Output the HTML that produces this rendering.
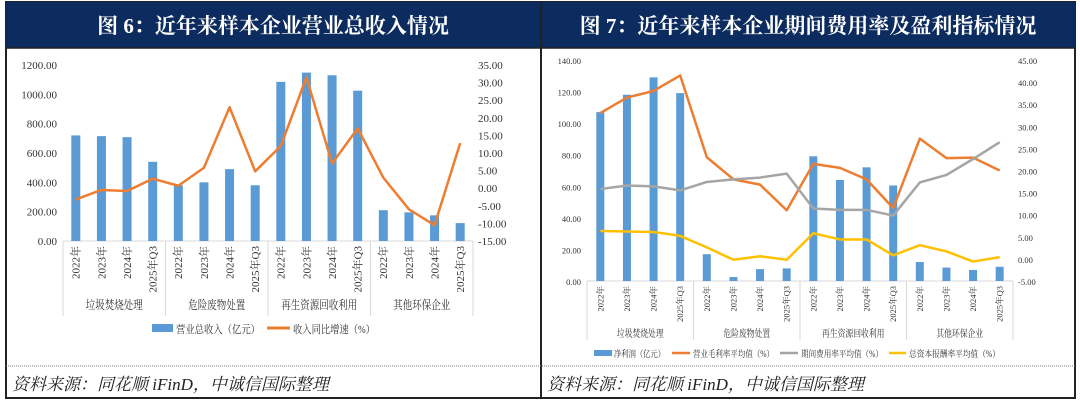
<!DOCTYPE html>
<html><head><meta charset="utf-8"><style>
html,body{margin:0;padding:0;background:#fff;}
svg{display:block;font-family:"Liberation Serif","Noto Serif CJK SC",serif;}
</style></head><body>
<svg id="s" width="1080" height="406" viewBox="0 0 1080 406" xmlns="http://www.w3.org/2000/svg" style="position:absolute;left:0;top:0">
<rect x="6" y="2" width="1069" height="396" fill="#fff" stroke="#222" stroke-width="2"/>
<rect x="6" y="2" width="1069" height="46" fill="#0c2b5e"/>
<line x1="541" y1="2" x2="541" y2="398" stroke="#222" stroke-width="2"/>
<line x1="6" y1="48" x2="1075" y2="48" stroke="#222" stroke-width="1.5"/>
<text x="273" y="33" text-anchor="middle" fill="#fff" font-size="21" font-weight="bold">图 6：近年来样本企业营业总收入情况</text>
<text x="808" y="33" text-anchor="middle" fill="#fff" font-size="21" font-weight="bold">图 7：近年来样本企业期间费用率及盈利指标情况</text>
<line x1="6" y1="366" x2="1075" y2="366" stroke="#777" stroke-dasharray="1,1"/>
<text x="12" y="390" font-size="17" font-style="italic" fill="#222">资料来源：同花顺 iFinD，中诚信国际整理</text>
<text x="547" y="390" font-size="17" font-style="italic" fill="#222">资料来源：同花顺 iFinD，中诚信国际整理</text>
<g id="c1"></g>
<g id="c2"></g>
<g>
<rect x="152" y="324" width="21" height="8" fill="#5b9bd5"/>
<text x="176" y="333" font-size="11" textLength="84" lengthAdjust="spacingAndGlyphs" fill="#333">营业总收入（亿元）</text>
<line x1="267" y1="328" x2="290" y2="328" stroke="#ed7d31" stroke-width="3"/>
<text x="293" y="333" font-size="11" textLength="82" lengthAdjust="spacingAndGlyphs" fill="#333">收入同比增速（%）</text>
</g>
<g>
<rect x="594" y="350" width="18" height="6" fill="#5b9bd5"/>
<text x="614" y="357" font-size="9" textLength="51" lengthAdjust="spacingAndGlyphs" fill="#333">净利润（亿元）</text>
<line x1="672" y1="353" x2="690" y2="353" stroke="#ed7d31" stroke-width="2.5"/>
<text x="693" y="357" font-size="9" textLength="81" lengthAdjust="spacingAndGlyphs" fill="#333">营业毛利率平均值（%）</text>
<line x1="780" y1="353" x2="798" y2="353" stroke="#a5a5a5" stroke-width="2.5"/>
<text x="801" y="357" font-size="9" textLength="82" lengthAdjust="spacingAndGlyphs" fill="#333">期间费用率平均值（%）</text>
<line x1="889" y1="353" x2="906" y2="353" stroke="#ffc000" stroke-width="2.5"/>
<text x="909" y="357" font-size="9" textLength="91" lengthAdjust="spacingAndGlyphs" fill="#333">总资本报酬率平均值（%）</text>
</g>
</svg>
<script>
const years=["2022年","2023年","2024年","2025年Q3","2022年","2023年","2024年","2025年Q3","2022年","2023年","2024年","2025年Q3","2022年","2023年","2024年","2025年Q3"];
const groups=["垃圾焚烧处理","危险废物处置","再生资源回收利用","其他环保企业"];
const revenue=[720,715,708,540,380,400,490,380,1085,1148,1130,1025,210,195,175,122];
const revGrowth=[-3.2,-0.5,-0.8,2.7,0.7,5.8,23,4.8,12,31.5,7,17,3,-6,-10.5,12.8];
const leftTicks1=[0,200,400,600,800,1000,1200];
const rightTicks1=[-15,-10,-5,0,5,10,15,20,25,30,35];
const netProfit=[107,118,129,119,17,2.5,7.5,8,79,64,72,60.5,12,8.5,7,9];
const grossMargin=[33,36.5,38,41.5,23,18,16.8,11,21.5,20.6,18,11.5,27.2,22.8,22.9,20];
const expenseRate=[15.8,16.6,16.4,15.5,17.4,18,18.4,19.3,11.4,11.1,11.1,9.8,17.3,19,22.6,26.4];
const roa=[6.3,6.2,6.1,5.2,2.6,-0.2,0.6,-0.2,5.8,4.4,4.4,0.8,3.1,1.7,-0.6,0.4];
const leftTicks2=[0,20,40,60,80,100,120,140];
const rightTicks2=[-5,0,5,10,15,20,25,30,35,40,45];
const NS="http://www.w3.org/2000/svg";
function mk(p,t,a,txt){const e=document.createElementNS(NS,t);for(const k in a)e.setAttribute(k,a[k]);if(txt!=null)e.textContent=txt;p.appendChild(e);return e;}
function draw(g,o){
 const n=years.length,slot=(o.x1-o.x0)/n;
 const yl=v=>o.yb-(v-o.lmin)/(o.lmax-o.lmin)*(o.yb-o.yt);
 const yr=v=>o.yb-(v-o.rmin)/(o.rmax-o.rmin)*(o.yb-o.yt);
 const xc=i=>o.x0+slot*(i+0.5);
 o.lt.forEach(v=>{const t=mk(g,'text',{x:o.x0-6,y:yl(v)+4,'text-anchor':'end','font-size':o.fs,fill:'#333'},v.toFixed(2));
  
  });
 o.rt.forEach(v=>{const t=mk(g,'text',{x:o.rx,y:yr(v)+4,'text-anchor':'start','font-size':o.fs,fill:'#333'},v.toFixed(2));
  
  });
 const ax=mk(g,'line',{x1:o.x0,y1:o.yb,x2:o.x1,y2:o.yb,stroke:'#d9d9d9'});
 
 
 for(let k=0;k<=4;k++){const x=o.x0+slot*4*k;const l=mk(g,'line',{x1:x,y1:o.yb,x2:x,y2:o.sepEnd,stroke:'#d9d9d9'});
  
  }
 years.forEach((y,i)=>{const t=mk(g,'text',{transform:`translate(${xc(i)+o.fs*0.35},${o.yb+5}) rotate(-90)`,'text-anchor':'end','font-size':o.fs,fill:'#333'},y);
  
  });
 groups.forEach((gname,k)=>{const t=mk(g,'text',{x:o.x0+slot*(4*k+2),y:o.gy,'text-anchor':'middle','font-size':o.gfs,fill:'#333',textLength:o.gcw*gname.length,lengthAdjust:'spacingAndGlyphs'},gname);
  
  });
 o.bars.forEach((v,i)=>{const r=mk(g,'rect',{x:xc(i)-o.bw/2,y:yl(v),width:o.bw,height:yl(0)-yl(v),fill:'#5b9bd5'});
  
  });
 o.lines.forEach(L=>{const p=mk(g,'polyline',{points:L.d.map((v,i)=>xc(i)+','+yr(v)).join(' '),fill:'none',stroke:L.c,'stroke-width':2.5,'stroke-linejoin':'round'});
  
  });
}
draw(document.getElementById('c1'),{x0:63,x1:473,yt:65,yb:241,lmin:0,lmax:1200,rmin:-15,rmax:35,rx:478,fs:11,gfs:12,gcw:9.5,bw:9,sepEnd:316,gy:309,
 lt:leftTicks1,rt:rightTicks1,bars:revenue,lines:[{d:revGrowth,c:'#ed7d31',name:'revenue-growth-line'}]});
draw(document.getElementById('c2'),{x0:587,x1:1013,yt:60,yb:281,lmin:0,lmax:140,rmin:-5,rmax:45,rx:1018,fs:8.5,gfs:10,gcw:7.8,bw:8,sepEnd:340,gy:337,
 lt:leftTicks2,rt:rightTicks2,bars:netProfit,lines:[{d:grossMargin,c:'#ed7d31',name:'gross-margin-line'},{d:expenseRate,c:'#a5a5a5',name:'expense-rate-line'},{d:roa,c:'#ffc000',name:'roa-line'}]});
</script>
</body></html>
